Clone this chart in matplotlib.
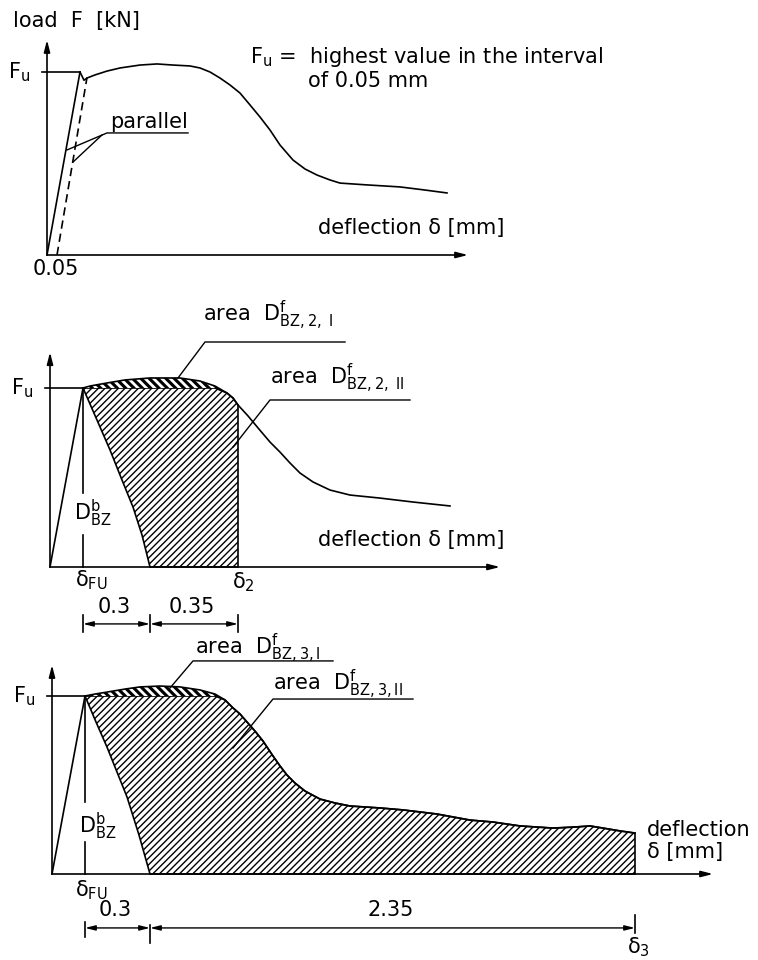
import numpy as np
import matplotlib
matplotlib.use("Agg")
import matplotlib.pyplot as plt

plt.rcParams["font.family"] = ["DejaVu Sans"]
plt.rcParams["mathtext.default"] = "regular"
plt.rcParams["hatch.linewidth"] = 1.0

# Data: deflection in drawing units, load as F / Fu
# top panel - test curve and the line shifted by 0.05 mm
p1_curve_x = np.array([0.33, 0.37, 0.40, 0.48, 0.60, 0.73, 0.93, 1.10, 1.26, 1.43,
                       1.53, 1.63, 1.73, 1.83, 1.93, 2.03, 2.13, 2.23, 2.33, 2.46,
                       2.58, 2.70, 2.83, 2.93, 3.20, 3.53, 3.78, 4.00])
p1_curve_y = np.array([1.00, 0.955, 0.967, 0.984, 1.005, 1.022, 1.038, 1.044, 1.038, 1.033,
                       1.022, 1.000, 0.967, 0.929, 0.885, 0.820, 0.754, 0.683, 0.601, 0.519,
                       0.470, 0.437, 0.410, 0.393, 0.383, 0.372, 0.355, 0.339])
p1_offset_x = [0.10, 0.40]
p1_offset_y = [0.0, 0.97]

# middle panel - residual strength up to delta_2
p2_curve_x = np.array([0.33, 0.40, 0.57, 0.75, 1.00, 1.30, 1.50, 1.65, 1.77, 1.83,
                       1.88, 1.98, 2.08, 2.20, 2.30, 2.40, 2.50, 2.63, 2.80, 3.00,
                       3.30, 3.63, 4.00])
p2_curve_y = np.array([1.00, 1.011, 1.028, 1.045, 1.056, 1.056, 1.039, 1.011, 0.972, 0.944,
                       0.905, 0.844, 0.777, 0.698, 0.642, 0.581, 0.525, 0.475, 0.430, 0.402,
                       0.385, 0.363, 0.341])
p2_unload_x = [0.33, 0.47, 0.60, 0.72, 0.83, 0.92, 1.00]
p2_unload_y = [1.00, 0.821, 0.654, 0.486, 0.335, 0.179, 0.0]
p2_delta_end = 1.88

# bottom panel - residual strength up to delta_3
p3_curve_x = np.array([0.33, 0.43, 0.55, 0.73, 0.88, 1.08, 1.28, 1.48, 1.63, 1.73,
                       1.81, 1.88, 1.95, 2.03, 2.11, 2.21, 2.28, 2.35, 2.43, 2.53,
                       2.68, 2.83, 2.98, 3.28, 3.51, 3.85, 4.18, 4.41, 4.68, 5.01,
                       5.23, 5.38, 5.51, 5.68, 5.83])
p3_curve_y = np.array([1.00, 1.011, 1.022, 1.039, 1.051, 1.056, 1.051, 1.034, 1.011, 0.978,
                       0.933, 0.899, 0.854, 0.803, 0.747, 0.663, 0.607, 0.556, 0.511, 0.466,
                       0.421, 0.399, 0.382, 0.371, 0.360, 0.337, 0.303, 0.292, 0.270, 0.258,
                       0.264, 0.270, 0.258, 0.242, 0.230])
p3_unload_x = [0.33, 0.44, 0.55, 0.65, 0.75, 0.87, 0.98]
p3_unload_y = [1.00, 0.854, 0.713, 0.573, 0.433, 0.219, 0.0]
p3_delta_end = 5.83

delta_fu = 0.33
dim_labels_2 = ["0.3", "0.35"]
dim_labels_3 = ["0.3", "2.35"]

W, H = 758, 960
SX = 100.0
FS = 15
LW = 1.2

fig = plt.figure(figsize=(W / 100, H / 100), dpi=100)


def make_panel(ox, oy, sy, top, bottom):
    ax = fig.add_axes([0, 1 - bottom / H, 1, (bottom - top) / H])
    ax.set_xlim(-ox / SX, (W - ox) / SX)
    ax.set_ylim((oy - bottom) / sy, (oy - top) / sy)
    ax.axis("off")
    ax.patch.set_alpha(0)
    return ax


def arrow(ax, start, end):
    ax.annotate("", xy=end, xytext=start,
                arrowprops=dict(arrowstyle="-|>,head_length=0.7,head_width=0.18",
                                lw=LW, color="k", shrinkA=0, shrinkB=0))


def axes_lines(ax, x_end, y_end):
    arrow(ax, (0, 0), (0, y_end))
    arrow(ax, (0, 0), (x_end, 0))
    ax.plot([-0.05, delta_fu], [1, 1], color="k", lw=LW)
    ax.plot([0, delta_fu], [0, 1], color="k", lw=LW)
    ax.text(-0.17, 1.0, "F$_u$", fontsize=FS, ha="right", va="center")


def leader(ax, label, x0, x1, y_line, x_end, y_text, tip):
    ax.plot([tip[0], x0, x_end], [tip[1], y_line, y_line], color="k", lw=1.0)
    ax.text(x1, y_text, label, fontsize=FS, ha="left", va="baseline")


def dimension(ax, ticks, y, labels, label_y, tick_tops, tick_bottoms):
    for x, t, b in zip(ticks, tick_tops, tick_bottoms):
        ax.plot([x, x], [b, t], color="k", lw=LW)
    for (a, b), lab in zip(zip(ticks[:-1], ticks[1:]), labels):
        ax.annotate("", xy=(b, y), xytext=(a, y),
                    arrowprops=dict(arrowstyle="<|-|>,head_length=0.6,head_width=0.15",
                                    lw=1.0, color="k", shrinkA=0, shrinkB=0))
        ax.text((a + b) / 2 - 0.02, label_y, lab, fontsize=FS, ha="center", va="center")


def hatched_areas(ax, cx, cy, ux, uy, x_end):
    m = cx <= x_end + 1e-9
    top_x = cx[m][::-1]
    top_y = np.minimum(cy[m], 1.0)[::-1]
    px = np.concatenate([ux, [x_end], top_x])
    py = np.concatenate([uy, [0.0], top_y])
    ax.fill(px, py, facecolor="none", edgecolor="k", hatch="/////", lw=LW)
    cap = ax.fill_between(cx[m], 1.0, cy[m], where=cy[m] >= 1.0, interpolate=True,
                          facecolor="k", edgecolor="white", hatch="\\\\\\\\", lw=0)
    if hasattr(cap, "set_hatch_linewidth"):
        cap.set_hatch_linewidth(2.0)


# ---------------- panel 1 ----------------
ax1 = make_panel(47, 255, 183, 0, 290)
axes_lines(ax1, 4.21, 1.175)
ax1.plot(p1_curve_x, p1_curve_y, color="k", lw=LW)
ax1.plot(p1_offset_x, p1_offset_y, color="k", lw=LW, ls=(0, (5, 3)))
ax1.text(-0.34, 1.279, "load  F  [kN]", fontsize=FS, ha="left", va="center")
ax1.text(2.03, 1.082, "F$_u$ =  highest value in the interval", fontsize=FS, ha="left", va="center")
ax1.text(2.61, 0.951, "of 0.05 mm", fontsize=FS, ha="left", va="center")
ax1.text(0.63, 0.727, "parallel", fontsize=FS, ha="left", va="center")
ax1.plot([0.20, 0.60, 1.41], [0.574, 0.667, 0.667], color="k", lw=1.0)
ax1.plot([0.26, 0.55], [0.508, 0.656], color="k", lw=1.0)
ax1.text(2.71, 0.148, "deflection δ [mm]", fontsize=FS, ha="left", va="center")
ax1.text(0.09, -0.075, "0.05", fontsize=FS, ha="center", va="center")

# ---------------- panel 2 ----------------
ax2 = make_panel(50, 567, 179, 290, 640)
hatched_areas(ax2, p2_curve_x, p2_curve_y, p2_unload_x, p2_unload_y, p2_delta_end)
axes_lines(ax2, 4.50, 1.20)
ax2.plot(p2_curve_x, p2_curve_y, color="k", lw=LW)
ax2.plot([delta_fu, delta_fu], [1.0, 0.413], color="k", lw=LW)
ax2.plot([delta_fu, delta_fu], [0.179, 0.0], color="k", lw=LW)
ax2.text(0.24, 0.263, "D$^b_{BZ}$", fontsize=FS, ha="left", va="baseline")
leader(ax2, r"area  D$^{f}_{BZ,2,\ I}$", 1.55, 1.53, 1.257, 2.95, 1.374, (1.28, 1.056))
leader(ax2, r"area  D$^{f}_{BZ,2,\ II}$", 2.20, 2.20, 0.933, 3.60, 1.022, (1.83, 0.670))
ax2.text(2.68, 0.151, "deflection δ [mm]", fontsize=FS, ha="left", va="center")
ax2.text(0.25, -0.075, "δ$_{FU}$", fontsize=FS, ha="left", va="center")
ax2.text(1.82, -0.085, "δ$_2$", fontsize=FS, ha="left", va="center")
dimension(ax2, [delta_fu, p2_unload_x[-1], p2_delta_end], -0.318, dim_labels_2, -0.225,
          [-0.268, -0.268, -0.268], [-0.363, -0.363, -0.363])

# ---------------- panel 3 ----------------
ax3 = make_panel(52, 874, 178, 600, 960)
hatched_areas(ax3, p3_curve_x, p3_curve_y, p3_unload_x, p3_unload_y, p3_delta_end)
axes_lines(ax3, 6.61, 1.174)
ax3.plot(p3_curve_x, p3_curve_y, color="k", lw=LW)
ax3.plot([delta_fu, delta_fu], [1.0, 0.404], color="k", lw=LW)
ax3.plot([delta_fu, delta_fu], [0.18, 0.0], color="k", lw=LW)
ax3.text(0.27, 0.23, "D$^b_{BZ}$", fontsize=FS, ha="left", va="baseline")
leader(ax3, r"area  D$^{f}_{BZ,3,I}$", 1.41, 1.43, 1.197, 2.81, 1.235, (1.18, 1.045))
leader(ax3, r"area  D$^{f}_{BZ,3,II}$", 2.21, 2.21, 0.983, 3.61, 1.034, (1.81, 0.708))
ax3.text(5.95, 0.247, "deflection", fontsize=FS, ha="left", va="center")
ax3.text(5.95, 0.124, "δ [mm]", fontsize=FS, ha="left", va="center")
ax3.text(0.23, -0.09, "δ$_{FU}$", fontsize=FS, ha="left", va="center")
ax3.text(5.75, -0.41, "δ$_3$", fontsize=FS, ha="left", va="center")
dimension(ax3, [delta_fu, p3_unload_x[-1], p3_delta_end], -0.303, dim_labels_3, -0.205,
          [-0.27, -0.287, -0.23], [-0.354, -0.388, -0.33])

fig.savefig("out.png", dpi=100)
